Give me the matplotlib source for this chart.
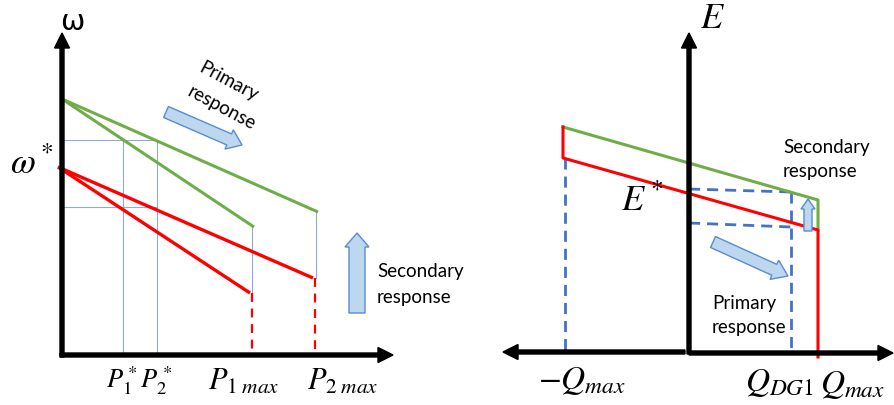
import matplotlib.pyplot as plt
from matplotlib.patches import FancyArrow

plt.rcParams["mathtext.fontset"] = "stix"
plt.rcParams["font.family"] = ["Lato", "DejaVu Sans"]

# Canvas units (x right, y down), shared by both panels
# ---- left panel: frequency droop, w vs P ----
w_axis_x = 62
p_axis_y = 355
green_start = (62, 99)
green_ends = [(318, 212), (254, 227)]
red_start = (58, 167)
red_ends = [(313, 278), (250, 293)]
p_star_x = [123, 157]
w_ref_y = [140, 207]

# ---- right panel: voltage droop, E vs Q ----
e_axis_x = 689
q_axis_y = 352
q_max_neg_x = 565
q_max_x = 818
q_dg1_x = 791
green_e = [(563, 127), (818, 200), (818, 230)]
red_e = [(563, 127), (563, 158), (818, 230), (818, 357)]
e_ref_y = [189, 223]

GREEN = "#70AD47"
RED = "#FF0000"
THIN_BLUE = "#8FAADC"
DASH_BLUE = "#4472C4"
ARROW_FILL = "#BDD7EE"
ARROW_EDGE = "#5B8BD0"

fig = plt.figure(figsize=(8.94, 4.05), dpi=100)
ax = fig.add_axes([0, 0, 1, 1])
ax.set_xlim(0, 894)
ax.set_ylim(405, 0)
ax.axis("off")


def axis_arrow(x0, y0, x1, y1):
    ax.add_patch(FancyArrow(x0, y0, x1 - x0, y1 - y0, width=4, head_width=15,
                            head_length=15, length_includes_head=True,
                            color="black", zorder=5))


def block_arrow(x0, y0, x1, y1, body, head, head_len):
    ax.add_patch(FancyArrow(x0, y0, x1 - x0, y1 - y0, width=body, head_width=head,
                            head_length=head_len, length_includes_head=True,
                            facecolor=ARROW_FILL, edgecolor=ARROW_EDGE, lw=1, zorder=4))


# left panel guide lines
for x in p_star_x:
    ax.plot([x, x], [w_ref_y[0], p_axis_y], color=THIN_BLUE, lw=0.8)
for y in w_ref_y:
    ax.plot([w_axis_x, p_star_x[1]], [y, y], color=THIN_BLUE, lw=0.8)
ax.plot([252, 252], [green_ends[1][1], red_ends[1][1]], color=THIN_BLUE, lw=0.8)
ax.plot([316, 316], [green_ends[0][1], red_ends[0][1]], color=THIN_BLUE, lw=0.8)

for end in green_ends:
    ax.plot([green_start[0], end[0]], [green_start[1], end[1]], color=GREEN, lw=2.2,
            solid_capstyle="butt")
for end in red_ends:
    ax.plot([red_start[0], end[0]], [red_start[1], end[1]], color=RED, lw=2.4,
            solid_capstyle="butt")
ax.plot([252, 252], [red_ends[1][1], p_axis_y], color=RED, lw=1.6, ls=(0, (4, 3)))
ax.plot([315, 315], [red_ends[0][1], p_axis_y], color=RED, lw=1.6, ls=(0, (4, 3)))

axis_arrow(w_axis_x, p_axis_y + 2, w_axis_x, 33)
axis_arrow(w_axis_x - 2, p_axis_y, 393, p_axis_y)

ax.text(72, 22, "ω", fontsize=21, ha="center", va="center", family="DejaVu Sans")
ax.text(32, 163, r"$\omega^*$", fontsize=26, ha="center", va="center")
ax.text(139, 381, r"$P_1^*P_2^*$", fontsize=19, ha="center", va="center")
ax.text(244, 381, r"$P_{1\;max}$", fontsize=22, ha="center", va="center")
ax.text(343, 381, r"$P_{2\;max}$", fontsize=22, ha="center", va="center")

block_arrow(166, 112, 242, 145, 12, 21, 14)
ax.text(229, 82, "Primary", fontsize=13.5, rotation=-28, ha="center", va="center",
        rotation_mode="anchor")
ax.text(222, 108, "response", fontsize=13.5, rotation=-28, ha="center", va="center",
        rotation_mode="anchor")

block_arrow(357, 313, 357, 233, 16, 24, 14)
ax.text(377, 271, "Secondary", fontsize=13.5, ha="left", va="center")
ax.text(377, 297, "response", fontsize=13.5, ha="left", va="center")

# right panel
ax.plot([q_max_neg_x, q_max_neg_x], [red_e[1][1], q_axis_y], color=DASH_BLUE, lw=2,
        ls=(0, (4, 2.5)))
ax.plot([e_axis_x, q_dg1_x], [e_ref_y[0], e_ref_y[0] + 3], color=DASH_BLUE, lw=2,
        ls=(0, (4, 2.5)))
ax.plot([e_axis_x, q_dg1_x], [e_ref_y[1], e_ref_y[1] + 4], color=DASH_BLUE, lw=2,
        ls=(0, (4, 2.5)))
ax.plot([q_dg1_x, q_dg1_x], [e_ref_y[0] + 3, q_axis_y], color=DASH_BLUE, lw=2,
        ls=(0, (4, 2.5)))

ax.plot(*zip(*green_e), color=GREEN, lw=2.2)
ax.plot(*zip(*red_e), color=RED, lw=2.2)

axis_arrow(e_axis_x, q_axis_y + 2, e_axis_x, 33)
axis_arrow(e_axis_x - 4, q_axis_y, 503, q_axis_y)
axis_arrow(e_axis_x, q_axis_y + 1, 893, q_axis_y + 1)

ax.text(712, 18, r"$E$", fontsize=26, ha="center", va="center")
ax.text(642, 200, r"$E^*$", fontsize=26, ha="center", va="center")
ax.text(582, 381, r"$-Q_{max}$", fontsize=24, ha="center", va="center")
ax.text(780, 383, r"$Q_{DG1}$", fontsize=24, ha="center", va="center")
ax.text(853, 385, r"$Q_{max}$", fontsize=24, ha="center", va="center")

block_arrow(808, 231, 808, 199, 8, 14, 10)
ax.text(783, 148, "Secondary", fontsize=13.5, ha="left", va="center")
ax.text(783, 172, "response", fontsize=13.5, ha="left", va="center")

block_arrow(713, 242, 788, 276, 12, 21, 15)
ax.text(712, 304, "Primary", fontsize=13.5, ha="left", va="center")
ax.text(712, 328, "response", fontsize=13.5, ha="left", va="center")

fig.savefig("out.png", dpi=100)
